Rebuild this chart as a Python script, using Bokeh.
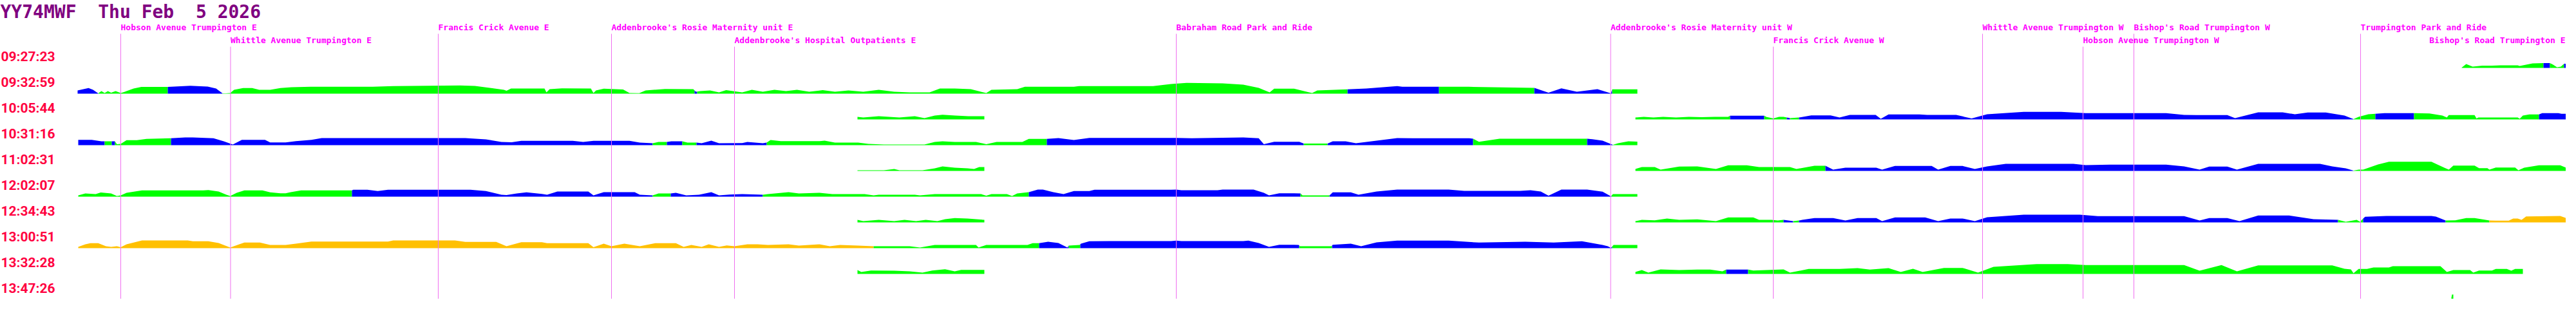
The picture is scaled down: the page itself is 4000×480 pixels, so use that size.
import numpy as np
from bokeh.plotting import figure
from bokeh.models import Range1d, ColumnDataSource
from bokeh.core.properties import value
from bokeh.embed import file_html
from bokeh.resources import INLINE

# ---------------- data ----------------
TITLE = "YY74MWF  Thu Feb  5 2026"

TIMES = ["09:27:23", "09:32:59", "10:05:44", "10:31:16", "11:02:31",
         "12:02:07", "12:34:43", "13:00:51", "13:32:28", "13:47:26"]

STOP_NAMES = ["Hobson Avenue Trumpington E", "Whittle Avenue Trumpington E",
              "Francis Crick Avenue E", "Addenbrooke's Rosie Maternity unit E",
              "Addenbrooke's Hospital Outpatients E", "Babraham Road Park and Ride",
              "Addenbrooke's Rosie Maternity unit W", "Francis Crick Avenue W",
              "Whittle Avenue Trumpington W", "Hobson Avenue Trumpington W",
              "Bishop's Road Trumpington W", "Trumpington Park and Ride",
              "Bishop's Road Trumpington E"]
STOP_POS = [195, 365.5, 688, 957, 1148, 1834, 2508.5, 2761, 3086, 3242, 3321, 3673, 3998.5]
STOP_TIER = [1, 2, 1, 1, 2, 1, 1, 2, 1, 2, 1, 1, 2]

# bands: (route position, value) pairs and colour runs (start position, colour code)
row0 = [(3830, 0.5), (3837, 6), (3847, 2), (3852, 2.5), (3862, 3.5), (3877, 3.5), (3890, 4),
        (3917, 4), (3920, 3), (3930, 5), (3940, 7), (3957, 7.5), (3967, 7.5), (3972, 5),
        (3978, 1), (3984, 2), (3989, 6.5), (4000, 6.5)]
row0_col = [(3830, "g"), (3957, "b"), (3967, "g"), (3989, "b")]

a1 = [(128, 5), (145, 8.7), (152, 6), (160, 0.5), (165, 4), (170, 1), (175, 4), (180, 1.5),
      (187, 4), (195, 1), (200, 2.5), (204, 4), (215, 8), (227, 10.5), (268, 10.5), (303, 12.3),
      (330, 11), (343, 8), (353, 0.5), (358, 0.5), (365, 1), (371, 6), (385, 8.7), (399, 8.7),
      (410, 6), (427, 6), (443, 8.7), (460, 10), (490, 10.7), (586, 10.7), (618, 11.7),
      (722, 12.7), (745, 12), (770, 8.7), (790, 6), (794, 4.5), (801, 8), (853, 8), (856, 2),
      (861, 7), (880, 8.3), (925, 8), (929, 1), (933, 5), (945, 7.7), (975, 6.5), (985, 1),
      (1000, 0.7), (1010, 5), (1040, 7.3), (1084, 7), (1088, 3), (1095, 4), (1110, 5),
      (1124, 2), (1135, 5.5), (1160, 2), (1175, 6), (1192, 3), (1210, 6), (1228, 4), (1245, 6),
      (1264, 3), (1285, 5.5), (1304, 3), (1325, 5), (1348, 3), (1372, 6), (1396, 3), (1420, 2),
      (1451, 2), (1467, 8), (1490, 8), (1515, 7), (1539, 1), (1547, 6), (1587, 7), (1599, 10.7),
      (1675, 10.7), (1683, 11.7), (1798, 11.7), (1826, 15), (1850, 16.7), (1906, 16),
      (1938, 14), (1962, 9), (1979, 2), (1986, 7.7), (2017, 7.7), (2045, 1), (2053, 5),
      (2100, 6.7), (2129, 8), (2177, 11.7), (2185, 10.7), (2242, 10.7), (2288, 10.7),
      (2390, 9), (2412, 1.5), (2432, 8.3), (2456, 3), (2488, 7), (2509, 0.5), (2511, 6.7),
      (2550, 6.7)]
a1_col = [(128, "b"), (160, "g"), (268, "b"), (353, "g"), (1086, "b"), (1090, "g"),
          (2100, "b"), (2242, "g"), (2390, "b"), (2511, "g")]

b1s = [(1339, 4), (1348, 3), (1372, 5), (1404, 3), (1428, 5), (1443, 2), (1459, 6),
       (1471, 7.3), (1491, 6), (1511, 5), (1536, 5)]
b1s_col = [(1339, "g")]

b1 = [(2547, 3), (2560, 4), (2575, 3), (2590, 4), (2610, 3), (2630, 4), (2650, 3.5), (2670, 4),
      (2691, 4), (2694, 5.7), (2747, 5.7), (2750, 4), (2761, 1.5), (2770, 4), (2777, 4),
      (2787, 2), (2801, 3), (2820, 6.3), (2850, 6.3), (2864, 3), (2880, 7), (2920, 7),
      (2928, 1), (2940, 7.7), (2988, 7.7), (3000, 7), (3045, 7), (3069, 1.5), (3093, 8),
      (3150, 11.7), (3208, 11.7), (3246, 9.7), (3284, 9.7), (3371, 9.7), (3399, 7),
      (3418, 6.7), (3466, 6.7), (3478, 2), (3514, 11), (3552, 11), (3571, 8), (3591, 10.7),
      (3619, 10.7), (3648, 6), (3662, 0.5), (3670, 4), (3685, 8), (3696, 8.7), (3710, 9.7),
      (3740, 9.7), (3756, 9.7), (3780, 9.3), (3800, 6), (3807, 3), (3810, 6.7), (3850, 6.7),
      (3853, 1.5), (3856, 3), (3917, 3), (3920, 1), (3925, 6), (3935, 7.7), (3950, 7.7),
      (3955, 9.7), (3980, 9.7), (3985, 8.7), (4000, 8.7)]
b1_col = [(2547, "g"), (2694, "b"), (2747, "g"), (2782, "b"), (2787, "g"), (2801, "b"),
          (3662, "g"), (3696, "b"), (3756, "g"), (3950, "b")]

a2 = [(129, 8.3), (150, 8.3), (165, 6), (170, 6), (181, 6), (186, 6), (189, 1.5), (195, 2),
      (204, 7.7), (220, 7.7), (235, 9.7), (273, 10.7), (295, 12), (307, 12), (339, 10.7),
      (355, 6), (369, 1), (383, 8.3), (419, 8.3), (427, 4.3), (451, 4.3), (467, 6.3),
      (491, 8.3), (507, 11), (586, 11), (610, 11), (730, 11), (762, 9), (786, 5), (802, 4.5),
      (817, 6.7), (897, 6.7), (913, 5), (929, 6.7), (985, 6.7), (1001, 4), (1021, 3),
      (1030, 5), (1043, 5), (1050, 6), (1067, 6), (1075, 4), (1089, 4), (1097, 3), (1112, 7),
      (1124, 3), (1160, 3.3), (1168, 5), (1192, 3), (1198, 4), (1204, 8), (1220, 6.3),
      (1280, 6.3), (1288, 7), (1304, 4), (1340, 4), (1356, 2), (1380, 1), (1443, 1),
      (1459, 5), (1471, 6), (1490, 5), (1523, 5), (1539, 1.5), (1555, 5), (1595, 5),
      (1605, 9.7), (1633, 9.7), (1651, 11), (1675, 8), (1699, 11.3), (1834, 11.3),
      (1858, 10.7), (1938, 12), (1962, 10.7), (1970, 1.5), (1986, 5.3), (2025, 5.3),
      (2032, 2.5), (2069, 2.5), (2077, 6), (2097, 6), (2113, 3), (2137, 6), (2177, 11),
      (2201, 10.7), (2289, 10.7), (2295, 10), (2304, 5.3), (2336, 10), (2352, 10),
      (2472, 10), (2480, 9.3), (2496, 7), (2512, 0.5), (2520, 3), (2536, 6), (2550, 5.5)]
a2_col = [(129, "b"), (170, "g"), (181, "b"), (186, "g"), (273, "b"), (1021, "g"),
          (1043, "b"), (1067, "g"), (1089, "b"), (1198, "g"), (1633, "b"), (2032, "g"),
          (2069, "b"), (2295, "g"), (2472, "b"), (2512, "g")]

b2s = [(1339, 1), (1380, 1), (1396, 3), (1404, 1), (1440, 1), (1459, 4), (1471, 7),
       (1490, 5), (1510, 4), (1520, 3), (1528, 6), (1536, 6)]
b2s_col = [(1339, "g")]

b2 = [(2547, 3), (2557, 6), (2577, 6), (2586, 2), (2615, 6.7), (2643, 7), (2672, 3),
      (2691, 8.7), (2720, 8.7), (2739, 6), (2768, 6), (2787, 6), (2797, 3), (2825, 8),
      (2842, 8), (2854, 2), (2873, 5), (2921, 5), (2930, 2), (2950, 7.7), (3007, 7.7),
      (3017, 2), (3036, 7.7), (3055, 7.7), (3074, 3), (3093, 7), (3122, 11), (3227, 11),
      (3246, 9), (3284, 9.7), (3371, 9.7), (3399, 7), (3423, 2), (3438, 6.7), (3466, 6.7),
      (3481, 2), (3514, 11), (3610, 11), (3629, 7), (3650, 4), (3662, 0.5), (3670, 2),
      (3677, 2), (3700, 10), (3717, 14.3), (3783, 14.3), (3790, 11), (3803, 5), (3810, 2),
      (3817, 8.3), (3850, 8.3), (3857, 4.3), (3870, 4.3), (3873, 2), (3883, 5.3), (3913, 5.3),
      (3918, 1), (3927, 5), (3950, 8.7), (3983, 8.7), (4000, 2)]
b2_col = [(2547, "g"), (2842, "b"), (3662, "g")]

a3 = [(129, 2), (140, 5), (156, 4), (164, 6.5), (180, 5), (189, 1), (195, 2), (204, 6),
      (228, 9.7), (323, 9.7), (331, 10.3), (347, 8), (359, 3), (365, 1), (375, 6),
      (387, 9.7), (415, 9.7), (427, 6.7), (443, 5.3), (451, 5.3), (459, 7), (475, 9.7),
      (554, 9.7), (556, 10.7), (578, 10.7), (594, 8.7), (610, 10.7), (738, 10.7), (762, 8.7),
      (786, 3), (794, 2.5), (810, 5), (825, 6.7), (849, 4.3), (857, 3), (873, 8), (921, 8),
      (929, 2), (945, 7), (993, 7), (1001, 3), (1021, 2), (1030, 5), (1049, 5), (1057, 6),
      (1073, 2), (1093, 3), (1112, 7), (1124, 2), (1140, 3.3), (1160, 4), (1185, 3.3),
      (1192, 3), (1200, 4), (1232, 7), (1248, 5), (1280, 6), (1300, 4), (1350, 4), (1364, 2),
      (1372, 3), (1428, 3), (1436, 2), (1459, 4), (1531, 4), (1539, 1.5), (1547, 4),
      (1571, 4), (1579, 1), (1587, 5), (1605, 7), (1619, 11), (1627, 11), (1643, 7),
      (1659, 4), (1675, 8.7), (1699, 8.7), (1707, 10.7), (1826, 10.7), (1834, 11),
      (1842, 10), (1898, 10), (1906, 11), (1954, 11), (1970, 6), (1978, 2), (1994, 5.3),
      (2017, 5.3), (2027, 5), (2030, 2), (2072, 2), (2077, 6.7), (2105, 6.7), (2117, 3),
      (2145, 8), (2177, 11), (2257, 11), (2281, 9), (2368, 9), (2384, 10), (2400, 8),
      (2412, 1.5), (2432, 11), (2472, 11), (2496, 7.7), (2509, 0.5), (2512, 4), (2550, 4)]
a3_col = [(129, "g"), (554, "b"), (1021, "g"), (1049, "b"), (1192, "g"), (1605, "b"),
          (2027, "g"), (2072, "b"), (2510, "g")]

b3s = [(1339, 4), (1348, 2), (1372, 4), (1396, 2), (1412, 4), (1430, 2), (1445, 4),
       (1463, 2), (1475, 5), (1490, 6.7), (1510, 6), (1536, 4)]
b3s_col = [(1339, "g")]

b3 = [(2547, 2), (2557, 4), (2577, 3.3), (2596, 6), (2615, 4), (2643, 4.7), (2672, 2),
      (2691, 7.7), (2730, 7.7), (2739, 4), (2758, 4), (2768, 3), (2777, 4), (2792, 2),
      (2801, 3), (2806, 4), (2825, 6.7), (2854, 6.7), (2873, 3), (2892, 6.7), (2921, 6.7),
      (2930, 2), (2950, 7.7), (2997, 7.7), (3017, 2), (3036, 6), (3055, 6), (3074, 2),
      (3093, 8), (3150, 12), (3237, 12), (3265, 9.7), (3399, 9.7), (3423, 3), (3438, 6.7),
      (3466, 6.7), (3485, 2), (3514, 10.7), (3562, 10.7), (3600, 5), (3638, 4), (3650, 1),
      (3667, 4), (3672, 1), (3677, 6), (3680, 8.7), (3713, 10), (3783, 10), (3790, 9),
      (3800, 5), (3805, 3), (3820, 3.3), (3837, 6.7), (3850, 6.7), (3867, 4), (3873, 3),
      (3883, 2.7), (3903, 2.7), (3910, 6), (3917, 6), (3923, 4), (3930, 9.3), (3983, 10),
      (4000, 4)]
b3_col = [(2547, "g"), (2777, "b"), (2792, "g"), (2801, "b"), (3638, "g"), (3677, "b"),
          (3805, "g"), (3873, "y")]

a4 = [(129, 2), (140, 6), (148, 7.7), (160, 7.7), (172, 3), (180, 2), (189, 3), (195, 1.5),
      (204, 6), (228, 12), (299, 12), (307, 10.7), (331, 10.7), (347, 8), (365, 1), (379, 6),
      (387, 8.7), (411, 8.7), (427, 5), (451, 5), (467, 7), (491, 10.3), (610, 10.3),
      (618, 12), (714, 12), (730, 9.7), (778, 9.7), (794, 3), (817, 9.3), (849, 9.3),
      (857, 7.7), (921, 7.7), (929, 1.5), (945, 7), (957, 3), (977, 7), (1001, 3),
      (1025, 7.7), (1057, 7.7), (1069, 2), (1081, 5), (1097, 2), (1108, 6), (1124, 2),
      (1136, 4.3), (1148, 3), (1168, 6), (1184, 6), (1200, 5), (1232, 6), (1248, 4),
      (1280, 6), (1296, 3), (1312, 5), (1340, 4), (1364, 3), (1420, 3), (1436, 1),
      (1459, 5), (1523, 5), (1527, 1), (1539, 5), (1603, 5), (1611, 7.7), (1621, 7.7),
      (1635, 10), (1651, 8), (1665, 1), (1667, 4), (1684, 5), (1686, 7), (1699, 10.7),
      (1730, 11), (1826, 11), (1834, 11.7), (1842, 11), (1938, 11), (1946, 11.7), (1962, 8),
      (1978, 2), (1994, 5.3), (2017, 5.3), (2024, 5), (2026, 3), (2075, 3), (2077, 5.3),
      (2105, 7), (2121, 3), (2145, 9), (2177, 11.7), (2257, 11.7), (2304, 8.7), (2376, 10),
      (2420, 8.7), (2464, 10.7), (2496, 5), (2504, 3), (2509, 0.5), (2513, 5), (2550, 5)]
a4_col = [(129, "y"), (1364, "g"), (1621, "b"), (1667, "g"), (1685, "b"), (2025, "g"),
          (2076, "b"), (2511, "g")]

b4s = [(1339, 6), (1345, 3), (1360, 5.3), (1396, 5), (1420, 4), (1440, 2), (1455, 5.3),
       (1475, 7.3), (1490, 4), (1500, 6.3), (1536, 6.3)]
b4s_col = [(1339, "g")]

b4 = [(2547, 3), (2557, 6), (2567, 2), (2586, 7), (2615, 6), (2643, 6.7), (2663, 6.7),
      (2682, 4), (2688, 6.7), (2722, 6.7), (2730, 5.3), (2777, 7), (2787, 2), (2816, 7.7),
      (2864, 7.7), (2892, 9), (2911, 6.7), (2940, 9), (2959, 3), (2978, 8), (2993, 3),
      (3026, 9.3), (3055, 9.3), (3079, 2), (3103, 11), (3170, 15.3), (3218, 15.3),
      (3246, 13.7), (3399, 13.7), (3423, 5), (3457, 13.7), (3481, 4), (3514, 13.3),
      (3629, 13.3), (3648, 8), (3658, 7), (3662, 1), (3670, 7.7), (3683, 7.7), (3693, 10),
      (3717, 10), (3723, 12), (3797, 12), (3807, 3), (3817, 6), (3843, 6), (3848, 2),
      (3857, 5.3), (3877, 5.3), (3883, 7.7), (3900, 7.7), (3907, 5), (3913, 7.7), (3925, 7.7)]
b4_col = [(2547, "g"), (2688, "b"), (2722, "g")]

row9 = [(3814, 3), (3815, 8), (3817, 8)]
row9_col = [(3814, "g")]

# (band, colour runs, trip row)
BANDS = [(row0, row0_col, 0), (a1, a1_col, 1), (b1s, b1s_col, 2), (b1, b1_col, 2),
         (a2, a2_col, 3), (b2s, b2s_col, 4), (b2, b2_col, 4), (a3, a3_col, 5),
         (b3s, b3s_col, 6), (b3, b3_col, 6), (a4, a4_col, 7), (b4s, b4s_col, 8),
         (b4, b4_col, 8), (row9, row9_col, 9)]

# ---------------- style / layout ----------------
COLORS = {"g": "#00FF00", "b": "#0000FF", "y": "#FFC000"}
ROW0_LABEL_BASE = 95
ROW0_BAND_BASE = 113
ROW_STEP = 40
X_MIN, X_MAX = 8, 3992

p = figure(width=3984, height=464, x_range=Range1d(X_MIN, X_MAX), y_range=Range1d(472, 8),
           output_backend="svg", toolbar_location=None, min_border=0,
           x_axis_type=None, y_axis_type=None, outline_line_color=None,
           background_fill_color="white", border_fill_color="white")
p.grid.visible = False

# bands
pxs, pys, pcs = [], [], []
for pts, cols, row in BANDS:
    x = np.array([q[0] for q in pts], dtype=float)
    h = np.array([q[1] for q in pts], dtype=float)
    base = ROW0_BAND_BASE + ROW_STEP * row
    starts = [c[0] for c in cols]
    ends = starts[1:] + [x[-1]]
    for (xs, c), xe in zip(cols, ends):
        inside = (x > xs) & (x < xe)
        hx0 = float(np.interp(xs, x, h))
        hx1 = float(np.interp(xe, x, h))
        px = [xs, xs] + list(x[inside]) + [xe, xe]
        ph = [0, hx0] + list(h[inside]) + [hx1, 0]
        pxs.append(px)
        pys.append([base - v for v in ph])
        pcs.append(COLORS[c])
p.patches(xs="xs", ys="ys", fill_color="fc", line_color=None,
          source=ColumnDataSource(dict(xs=pxs, ys=pys, fc=pcs)))

# stop lines
line_top = {1: 60, 2: 80}
p.segment(x0=STOP_POS, x1=STOP_POS, y0=[line_top[t] for t in STOP_TIER],
          y1=[480] * len(STOP_POS), line_color="#F070F0", line_width=1)

# stop labels (the last one is right-aligned so it stays on the page)
label_base = {1: 50, 2: 70}
last = len(STOP_NAMES) - 1
p.text(x=[STOP_POS[i] for i in range(last)], y=[label_base[STOP_TIER[i]] for i in range(last)],
       text=[STOP_NAMES[i] for i in range(last)], text_align="left",
       text_baseline="alphabetic", text_color="#FF00FF", text_font=value("DejaVu Sans Mono"),
       text_font_style="bold", text_font_size="13px")
p.text(x=[min(STOP_POS[last], X_MAX - 1)], y=[label_base[STOP_TIER[last]]],
       text=[STOP_NAMES[last]], text_align="right",
       text_baseline="alphabetic", text_color="#FF00FF", text_font=value("DejaVu Sans Mono"),
       text_font_style="bold", text_font_size="13px")

# time labels
p.text(x=[9] * len(TIMES), y=[ROW0_LABEL_BASE + ROW_STEP * k for k in range(len(TIMES))],
       text=TIMES, text_baseline="alphabetic", text_color="#FF0040",
       text_font=value("Roboto"), text_font_style="bold", text_font_size="21px")

# title (non-breaking spaces keep the double gaps)
p.text(x=[8], y=[26], text=[TITLE.replace(" ", "\u00a0")], text_baseline="alphabetic",
       text_color="#800080", text_font=value("DejaVu Sans Mono"), text_font_style="bold",
       text_font_size="28px")

open("out.html", "w").write(file_html(p, INLINE))
